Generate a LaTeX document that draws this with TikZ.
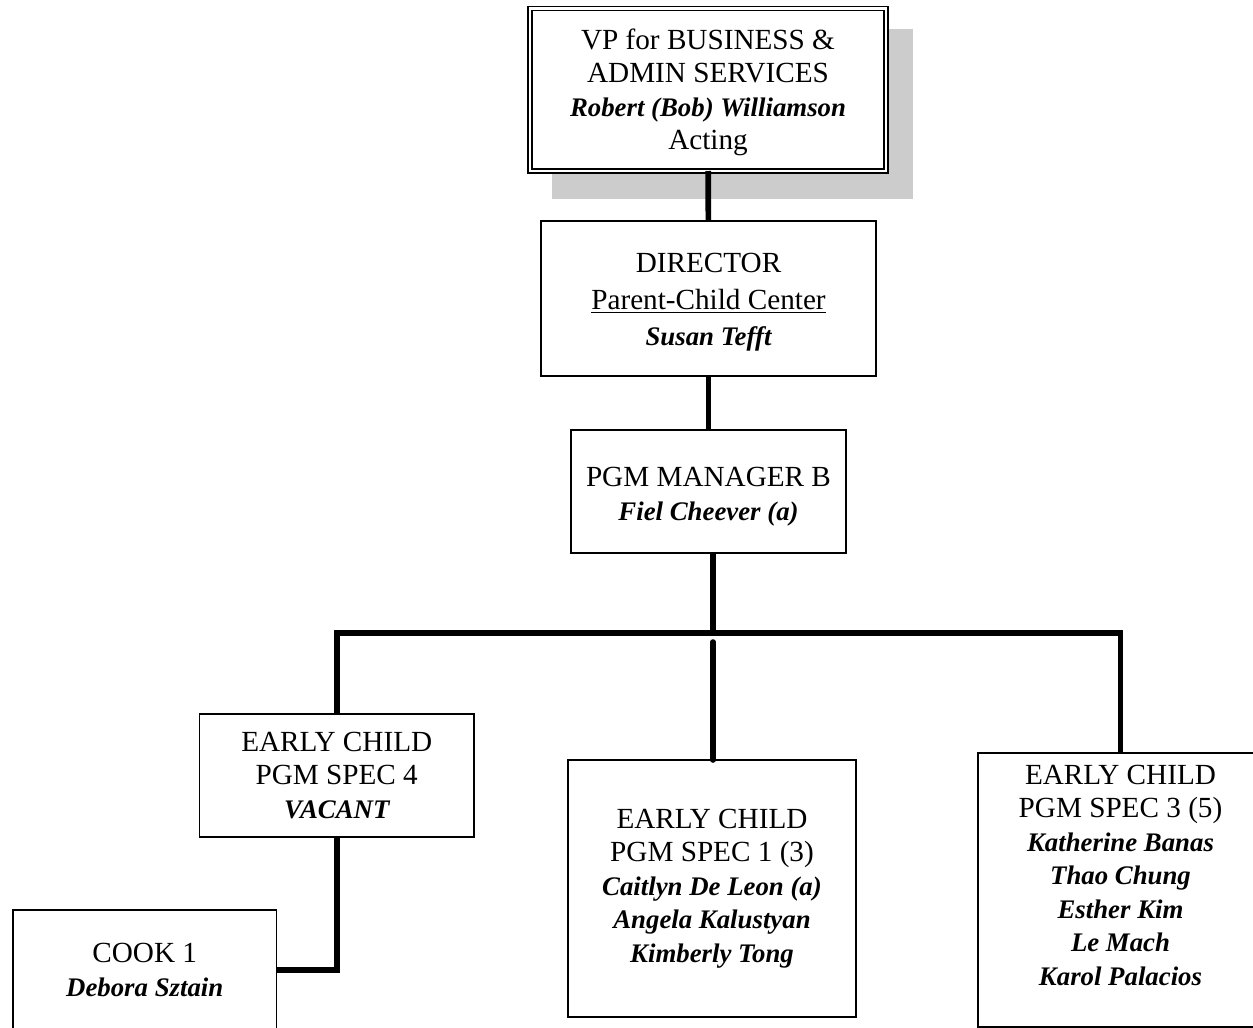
\documentclass[tikz,border=0pt]{standalone}
\usepackage{fontspec}
\setmainfont{Liberation Serif}
\usepackage{tikz}
\usetikzlibrary{backgrounds}

\newcommand{\who}[1]{{\fontsize{13.4}{16.75}\selectfont\bfseries\itshape #1}}
\newcommand{\pad}[1]{\rule{0pt}{#1}}

\begin{document}
\begin{tikzpicture}[x=0.5pt,y=-0.5pt,
                    link/.style={line width=2.8pt},
                    job node/.style={rectangle,draw,fill=white,line width=0.75pt,
                                     inner sep=0pt,outer sep=0pt,align=center,
                                     font=\fontsize{14.6}{16.75}\selectfont},
                    top node/.style={job node,double,double distance=1.25pt}]
                    \useasboundingbox (0,0) rectangle (1253,1028);
                    \node[top node,minimum width=178pt,minimum height=81.25pt] (vp) at (708,89.75)
                        {\pad{13pt}VP for BUSINESS \&\\ADMIN SERVICES\\\who{Robert (Bob) Williamson}\\Acting};
                    \node[job node,minimum width=167.5pt,minimum height=77.5pt] (dir) at (708.5,298.5)
                        {\pad{13.7pt}DIRECTOR\\[1.5pt]\underline{Parent-Child Center}\\[1.5pt]\who{Susan Tefft}};
                    \node[job node,minimum width=137.5pt,minimum height=61.5pt] (mgr) at (708.5,491.5)
                        {\pad{14.7pt}PGM MANAGER B\\\who{Fiel Cheever (a)}};
                    \node[job node,minimum width=137.25pt,minimum height=61.5pt] (spec4) at (336.75,775.5)
                        {EARLY CHILD\\PGM SPEC 4\\\who{VACANT}};
                    \node[job node,minimum width=144pt,minimum height=128.5pt] (spec1) at (712,888.5)
                        {EARLY CHILD\\PGM SPEC 1 (3)\\\who{Caitlyn De Leon (a)}\\\who{Angela Kalustyan}\\\who{Kimberly Tong}};
                    \node[job node,minimum width=142.5pt,minimum height=137pt,text depth=15pt] (spec3) at (1120.5,890)
                        {EARLY CHILD\\PGM SPEC 3 (5)\\\who{Katherine Banas}\\\who{Thao Chung}\\\who{Esther Kim}\\\who{Le Mach}\\\who{Karol Palacios}};
                    \node[job node,minimum width=131.75pt,minimum height=60pt] (cook) at (144.75,970)
                        {COOK 1\\\who{Debora Sztain}};

                    % shadow behind the top box
                    \begin{scope}[on background layer]
                        \fill[black!20] ([shift={(22,20.5)}]vp.north west) rectangle ([shift={(27,28)}]vp.south east);
                    \end{scope}

                    \coordinate (hub) at (713,633);
                    \coordinate (stub) at (713,642);

                    \path[link]
                        (vp) edge (dir)
                        (dir) edge (mgr)
                        ;
                    \draw[link] (mgr.south -| hub) -- (hub);
                    \draw[link] (spec4.north) -- (spec4.north |- hub) -- (spec3.north |- hub) -- (spec3.north);
                    \draw[link,line cap=round] (stub) -- (stub |- spec1.north);
                    \draw[link] (spec4.south) |- (cook.east);
                \end{tikzpicture}
\end{document}
